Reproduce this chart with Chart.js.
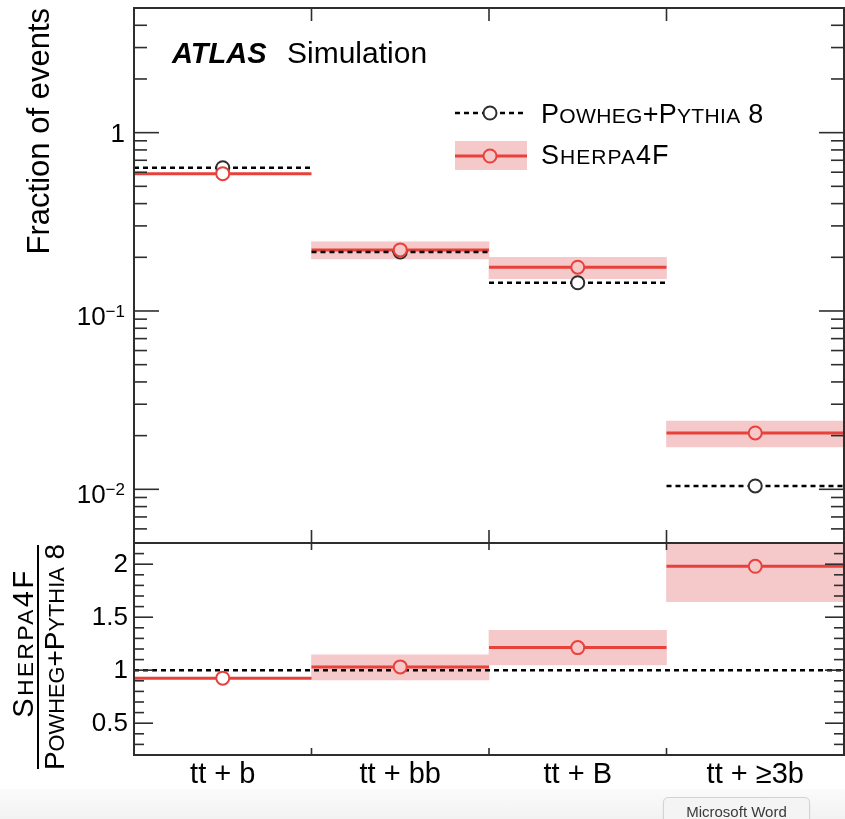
<!DOCTYPE html>
<html>
<head>
<meta charset="utf-8">
<script src="https://cdn.jsdelivr.net/npm/chart.js@4.4.1/dist/chart.umd.min.js"></script>
<style>
  html, body { margin: 0; padding: 0; background: #fff; }
  #wrap { position: relative; width: 845px; height: 819px; overflow: hidden; background: #fff; }
  #wrap canvas { position: absolute; left: 0; top: 0; }
  #strip { position: absolute; left: 0; top: 789px; width: 845px; height: 30px;
           background: linear-gradient(#fbfbfb, #f2f2f2); }
  #tip { position: absolute; left: 663px; top: 797px; width: 145px; height: 30px;
         border: 1px solid #d3d3d3; border-radius: 5px; background: #f4f4f4;
         font: 15px 'Liberation Sans', Arial, sans-serif; color: #3a3a3a;
         text-align: center; line-height: 28px; box-shadow: 0 1px 2px rgba(0,0,0,0.08); }
</style>
</head>
<body>
<div id="wrap">
  <div id="strip"></div>
  <canvas id="main" width="845" height="819"></canvas>
  <canvas id="ratio" width="845" height="819"></canvas>
  <div id="tip">Microsoft Word</div>
</div>
<script>
// ---- data ----
const categories = ['tt + b', 'tt + bb', 'tt + B', 'tt + \u22653b'];
const powhegFraction = [0.636, 0.214, 0.144, 0.01044];
const sherpaFraction = [0.589, 0.220, 0.176, 0.0207];
const sherpaFractionLow = [null, 0.196, 0.152, 0.0173];
const sherpaFractionHigh = [null, 0.244, 0.200, 0.0241];
const sherpaRatio = [0.925, 1.031, 1.213, 1.98];
const sherpaRatioLow = [null, 0.908, 1.05, 1.647];
const sherpaRatioHigh = [null, 1.144, 1.377, 2.31];
const ratioReference = 1;
const fractionTickLabels = [1, 0.1, 0.01];
const ratioTickLabels = [0.5, 1, 1.5, 2];

// ---- style ----
const FONT = "'Liberation Sans', Arial, Helvetica, sans-serif";
const RED = '#e8413b';
const BAND = '#f5c8ca';
const INK = '#2e2e2e';
const SMALL = 0.78;

const powhegName = [['P', 0], ['OWHEG', 1], ['+', 0], ['P', 0], ['YTHIA', 1], [' 8', 0]];
const sherpaName = [['S', 0], ['HERPA', 1], ['4F', 0]];

// ---- helpers building dataset points from the arrays ----
function stepPoints(values) {
  const pts = [];
  values.forEach((v, i) => { pts.push({ x: i, y: v }, { x: i + 1, y: v }, { x: i + 1, y: null }); });
  return pts;
}
function centrePoints(values) {
  return values.map((v, i) => ({ x: i + 0.5, y: v }));
}
function bandBars(lo, hi) {
  const out = [];
  lo.forEach((l, i) => { if (l != null && hi[i] != null) out.push({ x: i + 0.5, y: [l, hi[i]] }); });
  return out;
}
function centreTicks(scale) {
  scale.ticks = categories.map((c, i) => ({ value: i + 0.5 }));
}

function smallCapsWidth(ctx, segs, size, spacing) {
  let w = 0;
  ctx.letterSpacing = (spacing || 0) + 'px';
  for (const [t, s] of segs) { ctx.font = (s ? size * SMALL : size) + 'px ' + FONT; w += ctx.measureText(t).width; }
  ctx.letterSpacing = '0px';
  return w;
}
function drawSmallCaps(ctx, segs, x, y, size, spacing) {
  ctx.textAlign = 'left';
  ctx.textBaseline = 'alphabetic';
  ctx.letterSpacing = (spacing || 0) + 'px';
  let cx = x;
  for (const [t, s] of segs) {
    ctx.font = (s ? size * SMALL : size) + 'px ' + FONT;
    ctx.fillText(t, cx, y);
    cx += ctx.measureText(t).width;
  }
  ctx.letterSpacing = '0px';
}
function line(ctx, x1, y1, x2, y2) {
  ctx.beginPath(); ctx.moveTo(x1, y1); ctx.lineTo(x2, y2); ctx.stroke();
}
function marker(ctx, x, y, stroke, fill) {
  ctx.beginPath(); ctx.arc(x, y, 6.5, 0, Math.PI * 2);
  ctx.fillStyle = fill; ctx.fill();
  ctx.lineWidth = 2; ctx.strokeStyle = stroke; ctx.stroke();
}

// frame plus inward tick marks on all four sides of a panel
function drawFrame(chart, yTicks, majorLen, minorLen, xLen) {
  const { ctx, chartArea: a, scales } = chart;
  ctx.save();
  ctx.strokeStyle = INK;
  ctx.lineWidth = 1.6;
  for (const t of yTicks) {
    const p = scales.y.getPixelForValue(t.v);
    if (p < a.top + 1 || p > a.bottom - 1) continue;
    const L = t.major ? majorLen : minorLen;
    line(ctx, a.left, p, a.left + L, p);
    line(ctx, a.right, p, a.right - L, p);
  }
  for (let i = 1; i < categories.length; i++) {
    const p = scales.x.getPixelForValue(i);
    line(ctx, p, a.top, p, a.top + xLen);
    line(ctx, p, a.bottom, p, a.bottom - xLen);
  }
  ctx.lineWidth = 2;
  ctx.strokeRect(a.left, a.top, a.right - a.left, a.bottom - a.top);
  ctx.restore();
}

const logTicks = [];
for (let e = -3; e <= 0; e++) for (let m = 1; m <= 9; m++) logTicks.push({ v: m * Math.pow(10, e), major: m === 1 });
const ratioMinor = [];
for (let k = 2; k <= 22; k++) ratioMinor.push({ v: k / 10, major: k % 5 === 0 });

// ---- upper panel decorations ----
const mainDecor = {
  id: 'mainDecor',
  afterDraw(chart) {
    const { ctx, scales } = chart;
    drawFrame(chart, logTicks, 25, 13, 13);
    ctx.save();
    ctx.fillStyle = '#000';
    // y tick labels as powers of ten
    for (const v of fractionTickLabels) {
      const p = scales.y.getPixelForValue(v);
      const e = Math.round(Math.log10(v));
      const xr = 125;
      ctx.textBaseline = 'middle';
      if (e === 0) {
        ctx.font = '26px ' + FONT; ctx.textAlign = 'right';
        ctx.fillText('1', xr, p + 2);
      } else {
        const ex = '\u2212' + Math.abs(e);
        ctx.font = '17px ' + FONT;
        const ew = ctx.measureText(ex).width;
        ctx.textAlign = 'left';
        ctx.fillText(ex, xr - ew, p + 1);
        ctx.font = '26px ' + FONT; ctx.textAlign = 'right';
        ctx.fillText('10', xr - ew, p + 7);
      }
    }
    // axis title
    ctx.save();
    ctx.translate(49, chart.chartArea.top);
    ctx.rotate(-Math.PI / 2);
    ctx.font = '31px ' + FONT;
    ctx.textAlign = 'right';
    ctx.textBaseline = 'alphabetic';
    ctx.fillText('Fraction of events', 0, 0);
    ctx.restore();
    // experiment label
    ctx.textAlign = 'left'; ctx.textBaseline = 'alphabetic';
    ctx.font = 'italic bold 29px ' + FONT;
    ctx.fillText('ATLAS', 172, 63);
    ctx.font = '30px ' + FONT;
    ctx.fillText('Simulation', 287, 63);
    // legend
    ctx.strokeStyle = '#000'; ctx.lineWidth = 2.5; ctx.setLineDash([5, 4]);
    line(ctx, 455, 113, 527, 113);
    ctx.setLineDash([]);
    marker(ctx, 490, 113, INK, '#fff');
    ctx.fillStyle = '#000';
    drawSmallCaps(ctx, powhegName, 541, 123, 27, 0.3);
    ctx.fillStyle = BAND;
    ctx.fillRect(455, 141, 72, 29);
    ctx.strokeStyle = RED; ctx.lineWidth = 3;
    line(ctx, 455, 156, 527, 156);
    marker(ctx, 490, 156, RED, BAND);
    ctx.fillStyle = '#000';
    drawSmallCaps(ctx, sherpaName, 541, 164, 27, 1);
    ctx.restore();
  }
};

// ---- lower panel decorations ----
const ratioDecor = {
  id: 'ratioDecor',
  afterDraw(chart) {
    const { ctx, scales } = chart;
    drawFrame(chart, ratioMinor, 19, 10, 7);
    ctx.save();
    ctx.fillStyle = '#000';
    ctx.font = '26px ' + FONT;
    ctx.textAlign = 'right';
    ctx.textBaseline = 'middle';
    for (const v of ratioTickLabels) {
      ctx.fillText(String(v), 128, scales.y.getPixelForValue(v) + 1);
    }
    // ratio title as a fraction
    ctx.save();
    ctx.translate(33, 643); ctx.rotate(-Math.PI / 2);
    drawSmallCaps(ctx, sherpaName, -smallCapsWidth(ctx, sherpaName, 29, 2.5) / 2, 0, 29, 2.5);
    ctx.restore();
    ctx.save();
    ctx.translate(64, 657); ctx.rotate(-Math.PI / 2);
    drawSmallCaps(ctx, powhegName, -smallCapsWidth(ctx, powhegName, 28) / 2, 0, 28);
    ctx.restore();
    ctx.strokeStyle = '#000'; ctx.lineWidth = 2;
    line(ctx, 38, 545, 38, 769);
    ctx.restore();
  }
};

Chart.defaults.font.family = FONT;
Chart.defaults.color = '#000';

const common = {
  responsive: false,
  animation: false,
  events: [],
  plugins: { legend: { display: false }, tooltip: { enabled: false } },
};

new Chart(document.getElementById('main'), {
  type: 'line',
  data: {
    datasets: [
      { type: 'bar', data: bandBars(sherpaFractionLow, sherpaFractionHigh), backgroundColor: BAND,
        borderWidth: 0, barPercentage: 1, categoryPercentage: 1, order: 6 },
      { data: stepPoints(sherpaFraction), borderColor: RED, borderWidth: 3, pointRadius: 0, order: 5 },
      { data: stepPoints(powhegFraction), borderColor: '#000', borderWidth: 2.5, borderDash: [5, 4],
        pointRadius: 0, order: 4 },
      { data: centrePoints(powhegFraction), showLine: false, pointRadius: 6.5, pointBorderWidth: 2,
        pointBorderColor: INK, pointBackgroundColor: '#fff', order: 3 },
      { data: centrePoints(sherpaFraction), showLine: false, pointRadius: 6.5, pointBorderWidth: 2,
        pointBorderColor: RED,
        pointBackgroundColor: sherpaFractionLow.map(l => l != null ? BAND : '#fff'), order: 2 },
    ]
  },
  options: Object.assign({}, common, {
    layout: { autoPadding: false, padding: { left: 134, top: 8, right: 1, bottom: 276 } },
    scales: {
      x: { type: 'linear', min: 0, max: 4, offset: false, display: false, afterBuildTicks: centreTicks },
      y: { type: 'logarithmic', min: 0.005, max: 5, display: false },
    }
  }),
  plugins: [mainDecor]
});

new Chart(document.getElementById('ratio'), {
  type: 'line',
  data: {
    datasets: [
      { type: 'bar', data: bandBars(sherpaRatioLow, sherpaRatioHigh), backgroundColor: BAND,
        borderWidth: 0, barPercentage: 1, categoryPercentage: 1, order: 6 },
      { data: stepPoints(sherpaRatio), borderColor: RED, borderWidth: 3, pointRadius: 0, order: 5 },
      { data: [{ x: 0, y: ratioReference }, { x: categories.length, y: ratioReference }],
        borderColor: '#000', borderWidth: 2.5, borderDash: [5, 4], pointRadius: 0, order: 4 },
      { data: centrePoints(sherpaRatio), showLine: false, pointRadius: 6.5, pointBorderWidth: 2,
        pointBorderColor: RED,
        pointBackgroundColor: sherpaRatioLow.map(l => l != null ? BAND : '#fff'), order: 2 },
    ]
  },
  options: Object.assign({}, common, {
    layout: { autoPadding: false, padding: { left: 134, top: 543, right: 1, bottom: 24 } },
    scales: {
      x: {
        type: 'linear', min: 0, max: 4, offset: false,
        afterBuildTicks: centreTicks,
        afterFit(scale) { scale.height = 40; },
        grid: { display: false, drawTicks: false },
        border: { display: false },
        ticks: {
          autoSkip: false, maxRotation: 0, padding: 3, color: '#000',
          font: { size: 29, family: FONT },
          callback: (v) => categories[Math.round(v - 0.5)]
        }
      },
      y: { type: 'linear', min: 0.2, max: 2.2, display: false },
    }
  }),
  plugins: [ratioDecor]
});
</script>
</body>
</html>
